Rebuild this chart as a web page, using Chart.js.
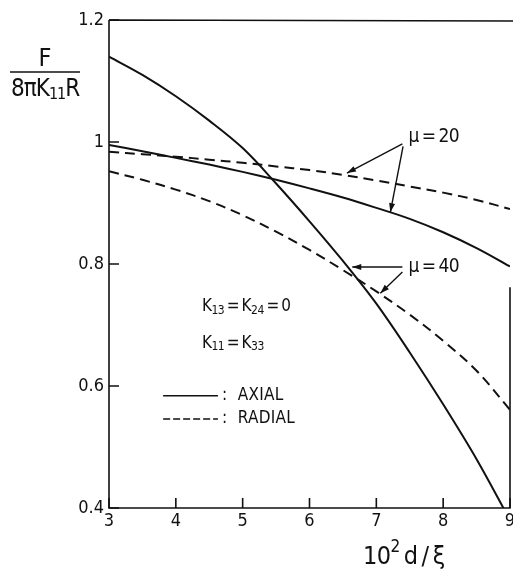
<!DOCTYPE html>
<html>
<head>
<meta charset="utf-8">
<script src="https://cdn.jsdelivr.net/npm/chart.js@4.4.1/dist/chart.umd.min.js"></script>
<style>
  html, body { margin: 0; padding: 0; background: #fff; }
  #wrap { width: 513px; height: 569px; }
</style>
</head>
<body>
<div id="wrap"><canvas id="forceChart" width="513" height="569"></canvas></div>
<script>
// x values: 10^2 d / xi
const xValues = [3, 3.5, 4, 4.5, 5, 5.5, 6, 6.5, 7, 7.5, 8, 8.5, 9];
// F / (8 pi K11 R)
const axialMu20  = [0.995, 0.985, 0.974, 0.963, 0.951, 0.938, 0.924, 0.909, 0.892, 0.874, 0.852, 0.826, 0.796];
const radialMu20 = [0.984, 0.980, 0.976, 0.971, 0.966, 0.960, 0.954, 0.946, 0.937, 0.927, 0.917, 0.905, 0.890];
const axialMu40  = [1.140, 1.110, 1.075, 1.035, 0.990, 0.932, 0.870, 0.805, 0.735, 0.655, 0.570, 0.480, 0.380];
const radialMu40 = [0.952, 0.938, 0.922, 0.903, 0.880, 0.853, 0.823, 0.790, 0.755, 0.717, 0.674, 0.625, 0.561];

const xTicks = [3, 4, 5, 6, 7, 8, 9];
const yTicks = [0.4, 0.6, 0.8, 1.0, 1.2];

const FONT = "'Liberation Sans Narrow', 'DejaVu Sans Condensed', 'Roboto Condensed', sans-serif";
const INK = '#111';
const THIN = '\u2009';

const toPoints = (ys) => xValues.map((x, i) => ({ x: x, y: ys[i] }));

// draw text made of [text, isSub, isSup] pieces
function richText(ctx, x, y, parts, size, spacing) {
    let cx = x;
    ctx.letterSpacing = (spacing || 0) + 'px';
    parts.forEach(p => {
        const small = p[1] || p[2];
        ctx.font = (small ? Math.round(size * 0.68) : size) + 'px ' + FONT;
        const dy = p[1] ? size * 0.22 : (p[2] ? -size * 0.38 : 0);
        ctx.fillText(p[0], cx, y + dy);
        cx += ctx.measureText(p[0]).width;
    });
    ctx.letterSpacing = '0px';
    return cx;
}

function arrow(ctx, x1, y1, x2, y2) {
    ctx.beginPath();
    ctx.moveTo(x1, y1);
    ctx.lineTo(x2, y2);
    ctx.stroke();
    const a = Math.atan2(y2 - y1, x2 - x1);
    const len = 9, w = 3;
    ctx.beginPath();
    ctx.moveTo(x2, y2);
    ctx.lineTo(x2 - len * Math.cos(a) + w * Math.sin(a), y2 - len * Math.sin(a) - w * Math.cos(a));
    ctx.lineTo(x2 - len * Math.cos(a) - w * Math.sin(a), y2 - len * Math.sin(a) + w * Math.cos(a));
    ctx.closePath();
    ctx.fill();
}

const decorations = {
    id: 'decorations',
    afterDatasetsDraw(chart) {
        const { ctx, chartArea: area, scales: { x, y } } = chart;
        const px = v => x.getPixelForValue(v);
        const py = v => y.getPixelForValue(v);
        ctx.save();
        ctx.strokeStyle = INK;
        ctx.fillStyle = INK;
        ctx.lineWidth = 1.6;

        // frame (right edge only partly visible in the original scan)
        ctx.beginPath();
        ctx.moveTo(area.left, area.top);
        ctx.lineTo(area.left, area.bottom);
        ctx.lineTo(area.right, area.bottom);
        ctx.lineTo(area.right, py(0.762));
        ctx.moveTo(area.left, area.top);
        ctx.lineTo(chart.width, area.top + 1);
        ctx.stroke();

        // inward tick marks
        ctx.beginPath();
        yTicks.forEach(v => { ctx.moveTo(area.left, py(v)); ctx.lineTo(area.left + 10, py(v)); });
        xTicks.forEach(v => { ctx.moveTo(px(v), area.bottom); ctx.lineTo(px(v), area.bottom - 10); });
        ctx.stroke();

        // curve labels
        ctx.lineWidth = 1.4;
        ctx.textBaseline = 'middle';
        ctx.textAlign = 'left';
        richText(ctx, px(7.48), py(1.008), [['\u03bc' + THIN + '=' + THIN + '20']], 19, -0.5);
        arrow(ctx, px(7.39), py(0.997), px(6.56), py(0.949));
        arrow(ctx, px(7.40), py(0.993), px(7.21), py(0.885));
        richText(ctx, px(7.48), py(0.795), [['\u03bc' + THIN + '=' + THIN + '40']], 19, -0.5);
        arrow(ctx, px(7.39), py(0.795), px(6.64), py(0.795));
        arrow(ctx, px(7.39), py(0.787), px(7.06), py(0.752));

        // parameter notes
        richText(ctx, px(4.39), py(0.730),
            [['K'], ['13', true], [THIN + '=' + THIN + 'K'], ['24', true], [THIN + '=' + THIN + '0']], 17, -0.5);
        richText(ctx, px(4.39), py(0.670),
            [['K'], ['11', true], [THIN + '=' + THIN + 'K'], ['33', true]], 17, -0.5);

        // key
        ctx.lineWidth = 1.6;
        ctx.beginPath();
        ctx.moveTo(px(3.81), py(0.584));
        ctx.lineTo(px(4.63), py(0.584));
        ctx.stroke();
        ctx.setLineDash([7, 3]);
        ctx.beginPath();
        ctx.moveTo(px(3.81), py(0.546));
        ctx.lineTo(px(4.63), py(0.546));
        ctx.stroke();
        ctx.setLineDash([]);
        richText(ctx, px(4.69), py(0.584), [[':  AXIAL']], 17, 0.3);
        richText(ctx, px(4.69), py(0.546), [[':  RADIAL']], 17, 0.3);

        // axis titles
        ctx.textAlign = 'center';
        ctx.font = '25px ' + FONT;
        ctx.fillText('F', 45, 59);
        ctx.beginPath();
        ctx.moveTo(10, 72);
        ctx.lineTo(80, 72);
        ctx.stroke();
        ctx.textAlign = 'left';
        richText(ctx, 11, 90, [['8\u03c0K'], ['11', true], ['R']], 24, -1);
        richText(ctx, 363, 557, [['10'], ['2', false, true], [THIN + 'd' + THIN + '/' + THIN + '\u03be']], 25, -0.5);
        ctx.restore();
    }
};

const lineSet = (label, ys, dashed) => ({
    label: label,
    data: toPoints(ys),
    borderColor: INK,
    borderWidth: 2,
    borderDash: dashed ? [10, 6] : [],
    pointRadius: 0,
    tension: 0.35,
    fill: false
});

new Chart(document.getElementById('forceChart'), {
    type: 'line',
    data: {
        datasets: [
            lineSet('axial, mu = 20', axialMu20, false),
            lineSet('radial, mu = 20', radialMu20, true),
            lineSet('axial, mu = 40', axialMu40, false),
            lineSet('radial, mu = 40', radialMu40, true)
        ]
    },
    options: {
        responsive: false,
        animation: false,
        layout: { padding: { top: 20, right: 3, left: 0, bottom: 0 } },
        plugins: {
            legend: { display: false },
            tooltip: { enabled: false }
        },
        scales: {
            x: {
                type: 'linear',
                min: 3,
                max: 9,
                afterFit: s => { s.height = 61; s.paddingLeft = 0; s.paddingRight = 0; },
                afterBuildTicks: s => { s.ticks = xTicks.map(v => ({ value: v })); },
                grid: { display: false, drawTicks: false },
                border: { display: false },
                ticks: {
                    color: INK,
                    padding: 3,
                    font: { family: FONT, size: 18 },
                    maxRotation: 0
                }
            },
            y: {
                type: 'linear',
                min: 0.4,
                max: 1.2,
                afterFit: s => { s.width = 109; s.paddingTop = 0; s.paddingBottom = 0; },
                afterBuildTicks: s => { s.ticks = yTicks.map(v => ({ value: v })); },
                grid: { display: false, drawTicks: false },
                border: { display: false },
                ticks: {
                    color: INK,
                    padding: 5,
                    font: { family: FONT, size: 18 },
                    callback: v => Math.abs(v - 1) < 1e-9 ? '1' : v.toFixed(1)
                }
            }
        }
    },
    plugins: [decorations]
});
</script>
</body>
</html>
